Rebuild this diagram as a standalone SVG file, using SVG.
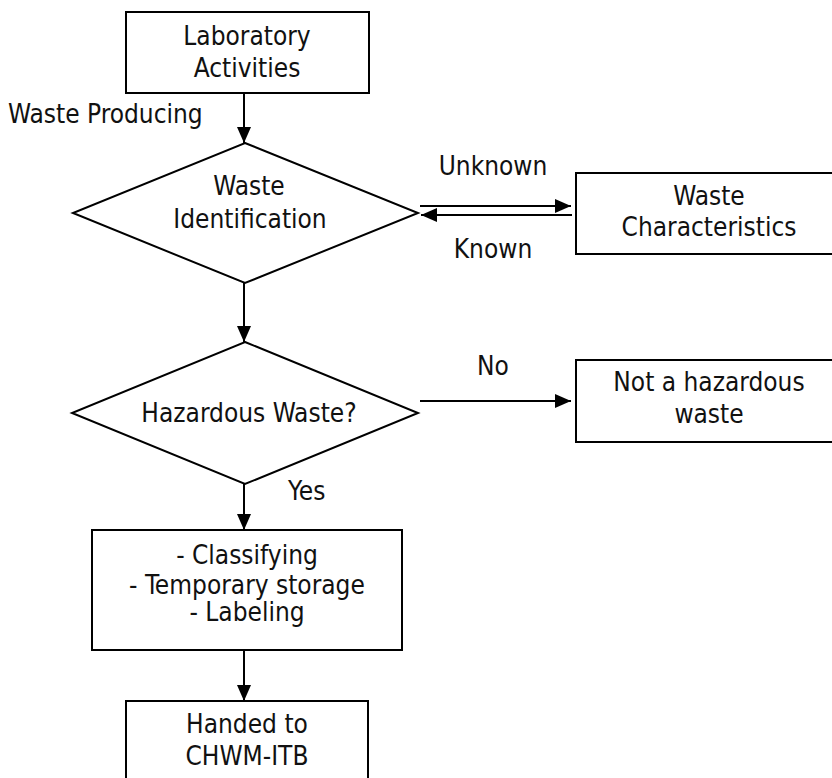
<svg xmlns="http://www.w3.org/2000/svg" width="832" height="778" viewBox="0 0 832 778">
<defs>
<marker id="ah" markerUnits="userSpaceOnUse" markerWidth="17" markerHeight="15" refX="16" refY="7" orient="auto">
<path d="M0,0 L16,7 L0,14 Z" fill="#000"/>
</marker>
<style>
.n{fill:#fff;stroke:#000;stroke-width:2}
.c{stroke:#000;stroke-width:2;fill:none;marker-end:url(#ah)}
text{font-family:"DejaVu Sans Condensed","Liberation Sans",sans-serif;font-stretch:condensed;font-size:26px;fill:#111}
.m{text-anchor:middle}
</style>
</defs>
<rect width="832" height="778" fill="#fff"/>
<g id="connectors">
<line class="c" x1="244" y1="93" x2="244" y2="143"/>
<line class="c" x1="244" y1="283" x2="244" y2="342"/>
<line class="c" x1="244" y1="484" x2="244" y2="530"/>
<line class="c" x1="244" y1="650" x2="244" y2="701"/>
<line class="c" x1="420" y1="206" x2="571" y2="206"/>
<line class="c" x1="572" y1="215" x2="421" y2="215"/>
<line class="c" x1="420" y1="401" x2="571" y2="401"/>
<text x="8" y="123">Waste Producing</text>
<text class="m" x="493" y="175">Unknown</text>
<text class="m" x="493" y="258">Known</text>
<text class="m" x="493" y="375">No</text>
<text x="288" y="500">Yes</text>
</g>
<g id="lab">
<rect class="n" x="126" y="12" width="243" height="81"/>
<text class="m" x="247" y="45">Laboratory</text>
<text class="m" x="247" y="77">Activities</text>
</g>
<g id="ident">
<polygon class="n" points="245,143 418,213 245,283 73,213"/>
<text class="m" x="249" y="195">Waste</text>
<text class="m" x="250" y="228">Identification</text>
</g>
<g id="charac">
<rect class="n" x="576" y="173" width="270" height="81"/>
<text class="m" x="709" y="205">Waste</text>
<text class="m" x="709" y="236">Characteristics</text>
</g>
<g id="hazard">
<polygon class="n" points="245,342 418,413 245,484 72,413"/>
<text class="m" x="249" y="422">Hazardous Waste?</text>
</g>
<g id="nothaz">
<rect class="n" x="576" y="360" width="270" height="82"/>
<text class="m" x="709" y="391">Not a hazardous</text>
<text class="m" x="709" y="423">waste</text>
</g>
<g id="process">
<rect class="n" x="92" y="530" width="310" height="120"/>
<text class="m" x="247" y="564">- Classifying</text>
<text class="m" x="247" y="594">- Temporary storage</text>
<text class="m" x="247" y="621">- Labeling</text>
</g>
<g id="handed">
<rect class="n" x="126" y="701" width="242" height="90"/>
<text class="m" x="247" y="733">Handed to</text>
<text class="m" x="247" y="765">CHWM-ITB</text>
</g>
</svg>
